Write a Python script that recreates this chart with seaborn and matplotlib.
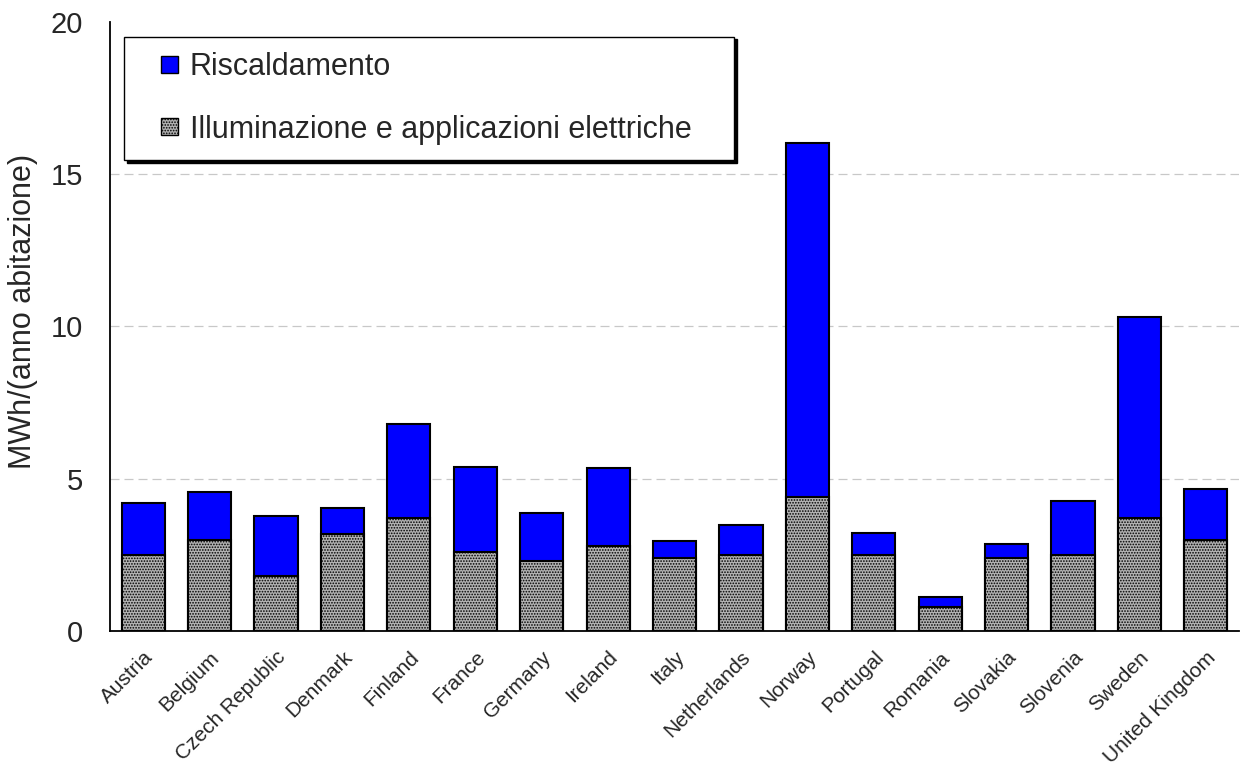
import pandas as pd
import matplotlib.pyplot as plt
import matplotlib.transforms as mtransforms
import seaborn as sns
from matplotlib.patches import Patch, Rectangle
from matplotlib.legend_handler import HandlerPatch

# ================= data =================
countries = ['Austria', 'Belgium', 'Czech Republic', 'Denmark', 'Finland', 'France',
             'Germany', 'Ireland', 'Italy', 'Netherlands', 'Norway', 'Portugal',
             'Romania', 'Slovakia', 'Slovenia', 'Sweden', 'United Kingdom']
# totale (illuminazione + riscaldamento)
totale = [4.2, 4.57, 3.77, 4.05, 6.81, 5.39, 3.88, 5.35, 2.96, 3.48, 16.03, 3.22,
          1.12, 2.86, 4.27, 10.3, 4.65]
illuminazione = [2.5, 3.0, 1.8, 3.2, 3.7, 2.6, 2.3, 2.8, 2.4, 2.5, 4.4, 2.5,
                 0.8, 2.4, 2.5, 3.7, 3.0]
lab_risc = 'Riscaldamento'
lab_illum = 'Illuminazione e applicazioni elettriche'

df = pd.DataFrame({'paese': countries, 'totale': totale, 'illum': illuminazione})

sns.set_theme(style="white")
plt.rcParams['font.family'] = ['Liberation Sans', 'DejaVu Sans']
plt.rcParams['hatch.color'] = '#6a6a6a'
plt.rcParams['hatch.linewidth'] = 0.8

GRIGIO = '#b2b2b2'

fig = plt.figure(figsize=(12.42, 7.72), dpi=100)
ax = fig.add_axes([0.0886, 0.1826, 0.909, 0.789])

sns.barplot(data=df, x='paese', y='totale', color='#0000ff', width=0.65,
            edgecolor='black', linewidth=1.5, saturation=1, ax=ax)
sns.barplot(data=df, x='paese', y='illum', color=GRIGIO, width=0.65,
            edgecolor='black', linewidth=1.5, saturation=1, ax=ax)
n = len(countries)
for p in ax.patches[n:]:
    p.set_hatch('......')

ax.set_ylim(0, 20)
ax.set_xlim(-0.5, n - 0.5)
ax.set_yticks([0, 5, 10, 15, 20])
ax.yaxis.grid(True, linestyle=(0, (7.2, 4)), color='#c8c8c8', linewidth=0.9)
ax.yaxis.get_gridlines()[-1].set_visible(False)
ax.set_axisbelow(True)

# tick marks between categories, labels at centres
ax.set_xticks(range(n))
ax.set_xticklabels(countries, rotation=45, ha='right', rotation_mode='anchor', fontsize=15)
shift = mtransforms.ScaledTranslation(-12 / 100, 0, fig.dpi_scale_trans)
for t in ax.get_xticklabels():
    t.set_transform(t.get_transform() + shift)
ax.set_xticks([i + 0.5 for i in range(n)], minor=True)
ax.tick_params(axis='x', which='major', length=0, pad=12)
ax.tick_params(axis='x', which='minor', length=6, width=1, color='black', direction='out')
ax.tick_params(axis='y', length=6, width=1, color='black', direction='out', labelsize=21, pad=13.5)
ax.set_xlabel('')
ax.set_ylabel('MWh/(anno abitazione)', fontsize=22)
ax.yaxis.set_label_coords(-0.0637, 0.524)

for s in ['top', 'right']:
    ax.spines[s].set_visible(False)
for s in ['left', 'bottom']:
    ax.spines[s].set_color('black')
    ax.spines[s].set_linewidth(1.3)


# quadratino allineato a destra nello spazio della chiave
def quadrato(legend, orig_handle, xdescent, ydescent, width, height, fontsize):
    s = 12.2
    return Rectangle((-xdescent + width - s, -ydescent + (height - s) / 2), s, s)


handles = [Patch(facecolor='#0000ff', edgecolor='black', linewidth=1),
           Patch(facecolor=GRIGIO, edgecolor='black', linewidth=1, hatch='......')]
leg = ax.legend(handles, [lab_risc, lab_illum], loc='upper left',
                bbox_to_anchor=(0.0124, 0.976, 0.5407, 0), mode='expand',
                fontsize=22, frameon=True, fancybox=False,
                shadow={'color': 'black', 'alpha': 1}, edgecolor='black',
                handler_map={Patch: HandlerPatch(patch_func=quadrato)},
                handlelength=1.28, handleheight=0.7, handletextpad=0.37,
                labelspacing=1.07, borderpad=0.5, borderaxespad=0)
leg.get_frame().set_linewidth(1)

fig.savefig('out.png', dpi=100)
